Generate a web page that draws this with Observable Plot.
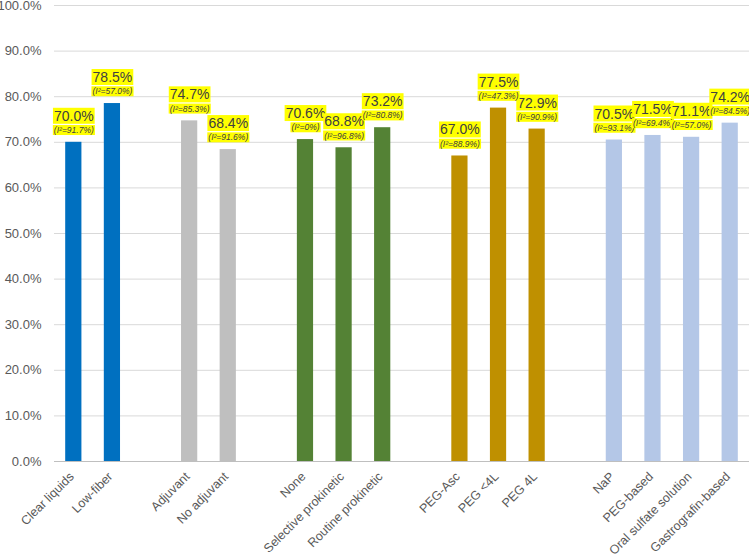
<!DOCTYPE html>
<html>
<head>
<meta charset="utf-8">
<script src="https://cdn.jsdelivr.net/npm/d3@7"></script>
<script src="https://cdn.jsdelivr.net/npm/@observablehq/plot@0.6"></script>
<style>
  html, body { margin: 0; padding: 0; background: #fff; }
  #chart { width: 749px; height: 559px; }
</style>
</head>
<body>
<div id="chart"></div>
<script>
const categories = ["Clear liquids", "Low-fiber", "Adjuvant", "No adjuvant", "None", "Selective prokinetic", "Routine prokinetic", "PEG-Asc", "PEG <4L", "PEG 4L", "NaP", "PEG-based", "Oral sulfate solution", "Gastrografin-based"];
const groups = ["Diet", "Diet", "Adjuvant", "Adjuvant", "Prokinetic", "Prokinetic", "Prokinetic", "Volume", "Volume", "Volume", "Type", "Type", "Type", "Type"];
const values = [70.0, 78.5, 74.7, 68.4, 70.6, 68.8, 73.2, 67.0, 77.5, 72.9, 70.5, 71.5, 71.1, 74.2];
const i2 = ["91.7", "57.0", "85.3", "91.6", "0", "96.8", "80.8", "88.9", "47.3", "90.9", "93.1", "69.4", "57.0", "84.5"];
const groupNames = ["Diet", "Adjuvant", "Prokinetic", "Volume", "Type"];
const groupColors = ["#0070C0", "#BFBFBF", "#548235", "#BF9000", "#B4C7E7"];
const yTicks = [0, 10, 20, 30, 40, 50, 60, 70, 80, 90, 100];

const data = categories.map((c, i) => ({cat: c, group: groups[i], value: values[i], i2: i2[i]}));

// x domain with empty slots between groups
const domain = [];
categories.forEach((c, i) => {
  if (i > 0 && groups[i] !== groups[i - 1]) domain.push("__gap" + i);
  domain.push(c);
});

const font = "'Liberation Sans', Arial, sans-serif";

const chart = Plot.plot({
  width: 749,
  height: 559,
  marginLeft: 54,
  marginRight: 0,
  marginTop: 5,
  marginBottom: 98,
  style: {fontFamily: font, background: "#fff"},
  x: {domain, paddingInner: 0.58, paddingOuter: 0.29, round: false, label: null},
  y: {domain: [0, 100], label: null},
  color: {domain: groupNames, range: groupColors},
  marks: [
    Plot.ruleY(yTicks, {stroke: "#D9D9D9", strokeOpacity: 1}),
    Plot.axisY(yTicks, {tickSize: 0, tickPadding: 13, fontSize: 13, fill: "#595959", tickFormat: d => d.toFixed(1) + "%", label: null}),
    Plot.axisX({tickSize: 0, tickRotate: -45, tickPadding: 13, dx: -2, fontSize: 12.5, fill: "#595959", tickFormat: d => d.startsWith("__gap") ? "" : d, label: null}),
    Plot.barY(data, {x: "cat", y: "value", fill: "group"}),
    Plot.ruleY([0], {stroke: "#BFBFBF"}),
    Plot.text(data, {x: "cat", y: "value", text: d => d.value.toFixed(1) + "%", dy: -26, fontSize: 14, fill: "#404040"}),
    Plot.text(data, {x: "cat", y: "value", text: d => "(I\u00B2=" + d.i2 + "%)", dy: -12, fontSize: 8.5, fontStyle: "italic", fill: "#404040"})
  ]
});

document.getElementById("chart").appendChild(chart);

// yellow highlight boxes behind data labels
chart.querySelectorAll('g[aria-label="text"] text').forEach(t => {
  const b = t.getBBox();
  const r = document.createElementNS("http://www.w3.org/2000/svg", "rect");
  r.setAttribute("x", b.x - 1);
  r.setAttribute("y", b.y);
  r.setAttribute("width", b.width + 2);
  r.setAttribute("height", b.height);
  r.setAttribute("fill", "#FFFF00");
  const tr = t.getAttribute("transform");
  if (tr) r.setAttribute("transform", tr);
  t.parentNode.insertBefore(r, t);
});
</script>
</body>
</html>
